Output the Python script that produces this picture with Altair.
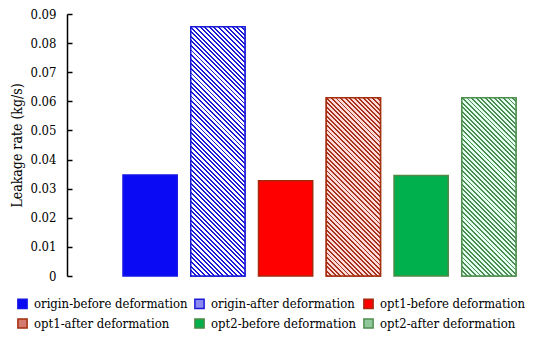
import altair as alt
import pandas as pd

# ---- data ----
series = ["origin-before deformation", "origin-after deformation",
          "opt1-before deformation", "opt1-after deformation",
          "opt2-before deformation", "opt2-after deformation"]
values = [0.0347, 0.0856, 0.0327, 0.0612, 0.0345, 0.0612]
y_ticks = [0, 0.01, 0.02, 0.03, 0.04, 0.05, 0.06, 0.07, 0.08, 0.09]

# ---- styles ----
fills = ["#0A0AF5", "#8A8AF0", "#FF0000", "#D57A6E", "#00B04C", "#8FC79A"]
strokes = ["#1414E6", "#1A1AD8", "#A3280C", "#A3300F", "#4F8A45", "#4F8F50"]
hatch_line = {1: "#1A1AD8", 3: "#A8321A", 5: "#4A8C50"}
hatch_bg = {1: "#FFFFFF", 3: "#FFDADA", 5: "#E3FFEF"}

W, H = 465, 262
R0, R1 = 56, 449
PI = 0.2
YMAX = 0.09
FONT = "DejaVu Serif Condensed"

df = pd.DataFrame({"series": series, "value": values})

bw = (R1 - R0) / (len(series) - PI) * (1 - PI)


def hatch(h, w, line, bg, s=4.6, frac=0.42):
    k = (1 / h + 1 / w) / (1 / h ** 2 + 1 / w ** 2)
    x2 = k / h
    y2 = 1 - k / w
    n = max(1, round((w + h) / s))
    stops = []
    for i in range(n):
        a = i / n
        b = (i + frac) / n
        c = (i + 1) / n
        stops += [alt.GradientStop(color=line, offset=a),
                  alt.GradientStop(color=line, offset=b),
                  alt.GradientStop(color=bg, offset=b),
                  alt.GradientStop(color=bg, offset=c)]
    return alt.LinearGradient(gradient="linear", x1=0, y1=1, x2=x2, y2=y2, stops=stops)


xenc = alt.X("series:N", sort=series,
             scale=alt.Scale(domain=series, range=[R0, R1], paddingInner=PI, paddingOuter=0),
             axis=None)
yscale = alt.Scale(domain=[0, YMAX], nice=False, zero=True)

base = alt.Chart(df).mark_bar(strokeWidth=1.5).encode(
    x=xenc,
    y=alt.Y("value:Q", scale=yscale,
            axis=alt.Axis(orient="left", values=y_ticks, format=".2~f", tickSize=0,
                          labelPadding=11, labelFont=FONT, labelFontSize=13,
                          labelColor="black", domainColor="black", domainWidth=1.5,
                          grid=False, title="Leakage rate (kg/s)", titleFont=FONT,
                          titleFontSize=14, titleFontWeight="normal", titleColor="black",
                          titlePadding=5)),
    fill=alt.Fill("series:N", sort=series,
                  scale=alt.Scale(domain=series, range=fills),
                  legend=alt.Legend(title=None, orient="none", legendX=-51, legendY=283,
                                    columns=3, direction="horizontal", symbolType="square",
                                    symbolSize=85, symbolStrokeWidth=1.5, labelFont=FONT,
                                    labelFontSize=13, labelColor="black", labelOffset=5,
                                    columnPadding=3, rowPadding=3, padding=0,
                                    labelLimit=300)),
    stroke=alt.Stroke("series:N", sort=series,
                      scale=alt.Scale(domain=series, range=strokes)),
)

layers = [base]
first = True
for i, line in hatch_line.items():
    h = values[i] / YMAX * H
    grad = hatch(h, bw, line, hatch_bg[i])
    if first:
        yaxis = alt.Axis(orient="right", offset=-W, values=y_ticks, labels=False,
                         domain=False, ticks=True, tickSize=5, tickWidth=1.5,
                         tickColor="black", grid=False, title=None)
        first = False
    else:
        yaxis = None
    layer = alt.Chart(df).transform_filter(
        alt.datum.series == series[i]
    ).mark_bar(fill=grad, stroke=strokes[i], strokeWidth=1.5).encode(
        x=xenc,
        y=alt.Y("value:Q", scale=yscale, axis=yaxis),
    )
    layers.append(layer)

chart = alt.layer(*layers).properties(
    width=W, height=H,
    autosize=alt.AutoSizeParams(type="none"),
    padding={"left": 59, "top": 6, "right": 10, "bottom": 60},
    background="white",
).configure_view(stroke=None)

chart.save("out.html", embed_options={"renderer": "svg", "actions": False})
